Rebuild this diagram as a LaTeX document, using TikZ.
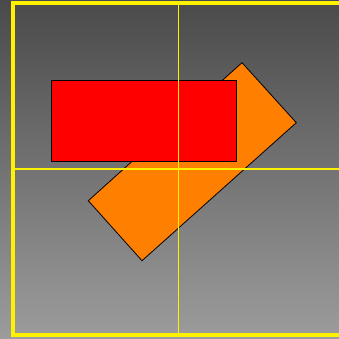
\documentclass[tikz,border=0pt]{standalone}
\begin{document}
\begin{tikzpicture}[x=1pt,y=-1pt,
  shapeline/.style={draw=black,line width=0.8pt},
  frameline/.style={draw=yellow,line width=4pt},
  gridfill/.style={fill=yellow}]
\useasboundingbox (0,0) rectangle (339,339);
\clip (0,0) rectangle (339,339);
\shade[top color={rgb,255:red,74;green,74;blue,74},bottom color={rgb,255:red,156;green,156;blue,156}] (0,0) rectangle (339,339);
\fill[fill={rgb,255:red,255;green,128;blue,0}] (242,62.7) -- (296.3,122.7) -- (142,260.7) -- (88.3,200.7) -- cycle;
\draw[shapeline] (242,62.7) -- (296.3,122.7) -- (142,260.7) -- (88.3,200.7) -- cycle;
\filldraw[shapeline,fill=red] (51,80.5) rectangle (236,161);
\fill[gridfill] (177.6,3) rectangle (179.4,335);
\fill[gridfill] (12,168.2) rectangle (345,170);
\draw[frameline] (12.5,3) rectangle (345,335);
\end{tikzpicture}
\end{document}
